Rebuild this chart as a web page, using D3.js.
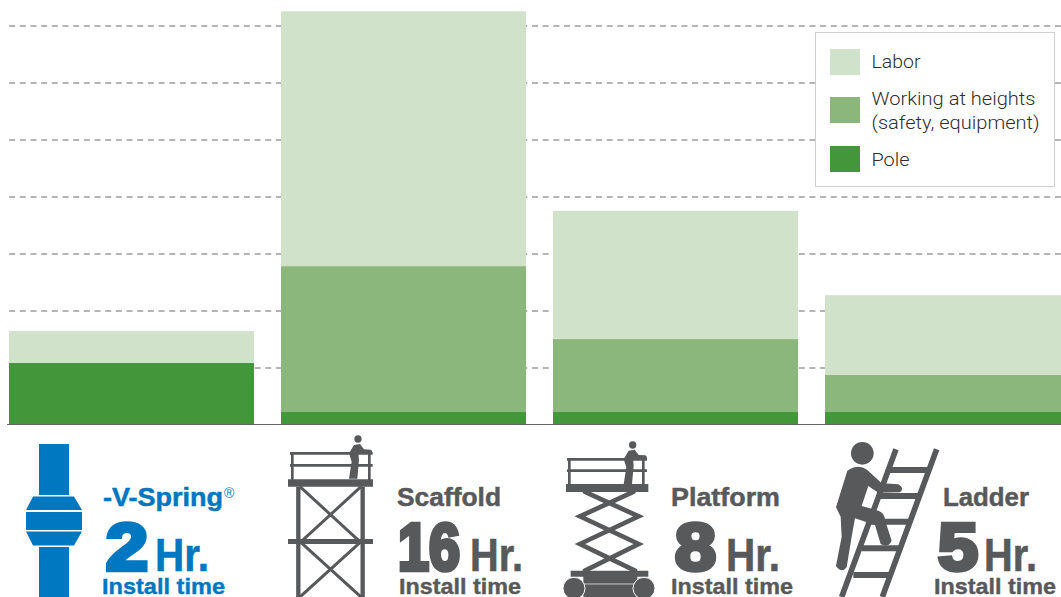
<!DOCTYPE html>
<html>
<head>
<meta charset="utf-8">
<script src="https://cdn.jsdelivr.net/npm/d3@7"></script>
<style>
html,body{margin:0;padding:0;background:#fff;overflow:hidden}
svg{display:block}
text{font-family:"Liberation Sans",Arial,sans-serif}
.b{font-weight:700}
.leg{font-family:"Roboto",sans-serif;font-weight:300;font-size:18px;fill:#2e2e2e}
</style>
</head>
<body>
<svg id="c" width="1061" height="597"></svg>
<script>
// ---- data ----
const categories = ["-V-Spring", "Scaffold", "Platform", "Ladder"];
const poleValues = [1.07, 0.21, 0.21, 0.21];
const heightsValues = [0, 2.56, 1.28, 0.65];
const laborValues = [0.56, 4.47, 2.25, 1.40];
const hours = ["2", "16", "8", "5"];
const seriesNames = ["Pole", "Working at heights", "Labor"];
const legendLabels = ["Labor", "Working at heights", "(safety, equipment)", "Pole"];
const gridTicks = [1, 2, 3, 4, 5, 6, 7];

// ---- style / layout ----
const BLUE = "#0077c1", GREY = "#58595b";
const seriesColors = {"Pole": "#43963a", "Working at heights": "#8bb77d", "Labor": "#d1e2cb"};
const svg = d3.select("#c");

const x = d3.scaleBand().domain(categories).range([9, 1070]).paddingInner(27 / 272);
const y = d3.scaleLinear().domain([0, 7]).range([424, 25]);

// grid
const grid = d3.axisLeft(y).tickValues(gridTicks).tickSize(-1054).tickFormat("");
const gg = svg.append("g").attr("transform", "translate(7,0.5)").call(grid);
gg.select(".domain").remove();
gg.selectAll("line").attr("stroke", "#6a6a6a").attr("stroke-width", 1).attr("stroke-dasharray", "6 4.67").attr("stroke-dashoffset", 8.5);

// bars
const rows = categories.map((c, i) => ({cat: c, "Pole": poleValues[i], "Working at heights": heightsValues[i], "Labor": laborValues[i]}));
const stack = d3.stack().keys(seriesNames)(rows);
svg.append("g").selectAll("g").data(stack).join("g").attr("fill", d => seriesColors[d.key])
  .selectAll("rect").data(d => d).join("rect")
  .attr("x", d => x(d.data.cat)).attr("width", x.bandwidth())
  .attr("y", d => y(d[1])).attr("height", d => y(d[0]) - y(d[1]));

// baseline
svg.append("line").attr("x1", 7).attr("x2", 1061).attr("y1", y(0) + .5).attr("y2", y(0) + .5).attr("stroke", "#666").attr("stroke-width", 1);

// legend
const lg = svg.append("g");
lg.append("rect").attr("x", 815.5).attr("y", 32.5).attr("width", 239).attr("height", 154).attr("fill", "#fff").attr("stroke", "#cfcfcf");
[["Labor", 49], ["Working at heights", 97], ["Pole", 146]].forEach(([k, t]) =>
  lg.append("rect").attr("x", 830).attr("y", t).attr("width", 30).attr("height", 26).attr("fill", seriesColors[k]));
[[67.5, 49], [104.5, 164], [128.5, 168], [165.5, 38]].forEach(([by, w], i) =>
  lg.append("text").attr("class", "leg").attr("x", 871.5).attr("y", by).attr("textLength", w).attr("lengthAdjust", "spacingAndGlyphs").text(legendLabels[i]));

// captions
function fit(sel, x0, x1) { return sel.attr("x", x0).attr("textLength", x1 - x0).attr("lengthAdjust", "spacingAndGlyphs"); }
const capLayout = [
  {c: BLUE, name: [103, 223], num: [104, 150], hr: [155, 209], inst: [102, 225]},
  {c: GREY, name: [397, 501], num: [396, 462], hr: [470, 523], inst: [399, 521]},
  {c: GREY, name: [671, 780], num: [673, 718], hr: [726, 780], inst: [671, 793]},
  {c: GREY, name: [943, 1029], num: [936, 980], hr: [984, 1037], inst: [934, 1056]}
];
categories.forEach((cat, i) => {
  const L = capLayout[i], g = svg.append("g").attr("fill", L.c);
  fit(g.append("text").attr("class", "b").attr("y", 506).attr("font-size", 26).attr("stroke", L.c).attr("stroke-width", .5).text(cat), L.name[0], L.name[1]);
  fit(g.append("text").attr("class", "b").attr("y", 569.5).attr("font-size", 66).attr("stroke", L.c).attr("stroke-width", 4.5).attr("stroke-linejoin", "miter").text(hours[i]), L.num[0] + 2, L.num[1] - 2);
  fit(g.append("text").attr("class", "b").attr("y", 571).attr("font-size", 46).attr("stroke", L.c).attr("stroke-width", .6).text("Hr."), L.hr[0], L.hr[1]);
  fit(g.append("text").attr("class", "b").attr("y", 594).attr("font-size", 22).attr("stroke", L.c).attr("stroke-width", .4).text("Install time"), L.inst[0], L.inst[1]);
});
svg.append("text").attr("x", 224).attr("y", 498).attr("font-size", 14).attr("fill", BLUE).text("®");

// ---- icons (decorative; drawn in 3x local coordinates) ----
const PERSON = "M222,75 L240,72 L252,88 L272,89 Q281,95 273,101 L246,101 L235,96 L237,120 L232,176 L207,176 L215,125 L207,100 Z";

// V-Spring
const vs = svg.append("g").attr("fill", BLUE);
vs.append("rect").attr("x", 39).attr("y", 444).attr("width", 30).attr("height", 51);
vs.append("path").attr("d", "M33,496.5H74L82,510H26Z");
vs.append("rect").attr("x", 26).attr("y", 512).attr("width", 56).attr("height", 18);
vs.append("path").attr("d", "M26,531.5H82L74,545.5H33Z");
vs.append("rect").attr("x", 39).attr("y", 547).attr("width", 30).attr("height", 50);

// Scaffold
const sc = svg.append("g").attr("transform", "translate(280,420) scale(0.3333)").attr("fill", GREY).attr("stroke", GREY);
sc.append("circle").attr("cx", 234).attr("cy", 57).attr("r", 11).attr("stroke", "none");
sc.append("path").attr("d", PERSON).attr("stroke", "none");
sc.append("path").attr("fill", "none").attr("stroke-width", 8).attr("d", "M30,100H278M30,136H278M37,100V180M268,100V180");
sc.append("path").attr("stroke", "none").attr("d", "M24,178H279V200H24ZM24,357H279V372H24Z");
sc.append("path").attr("fill", "none").attr("stroke-width", 13).attr("d", "M55,200V531M248,200V531");
sc.append("path").attr("fill", "none").attr("stroke-width", 9).attr("d", "M60,200L243,368M243,200L60,368M60,365L243,531M243,365L60,531");

// Platform
const pf = svg.append("g").attr("transform", "translate(550,420) scale(0.3333)").attr("fill", GREY).attr("stroke", GREY);
pf.append("circle").attr("cx", 248).attr("cy", 75).attr("r", 11).attr("stroke", "none");
pf.append("path").attr("d", PERSON).attr("stroke", "none").attr("transform", "translate(14,17)");
pf.append("path").attr("fill", "none").attr("stroke-width", 8).attr("d", "M51,118H291M51,152H291M58,118V195M280,118V195");
pf.append("path").attr("stroke", "none").attr("d", "M48,192H295V216H48Z");
pf.append("path").attr("fill", "none").attr("stroke-width", 14).attr("stroke-linecap", "round")
  .attr("d", "M105,216L266,289L90,372L255,452M250,216L90,289L266,372L105,452");
pf.append("path").attr("stroke", "none").attr("d", "M62,452H295V470H62ZM100,470H262V531H100Z");
pf.append("path").attr("stroke", "#fff").attr("stroke-width", 2).attr("fill", "none").attr("d", "M100,492H262");
pf.selectAll("circle.w").data([72, 282]).join("circle").attr("class", "w").attr("cx", d => d).attr("cy", 505).attr("r", 33).attr("stroke", "#fff").attr("stroke-width", 3);

// Ladder
const ld = svg.append("g").attr("transform", "translate(810,420) scale(0.3333)").attr("fill", GREY);
ld.append("path").attr("fill", "none").attr("stroke", GREY).attr("stroke-width", 17)
  .attr("d", "M258,88L95,531M380,88L217,531");
ld.append("path").attr("fill", "none").attr("stroke", GREY).attr("stroke-width", 18)
  .attr("d", "M240,150H355M210,228H325M180,305H300M155,385H270M130,465H240");
ld.append("circle").attr("cx", 157).attr("cy", 100).attr("r", 34);
ld.append("path")
  .attr("d", "M112,152 Q145,130 172,150 L215,190 L265,193 Q285,205 270,217 L205,218 L175,198 L155,258 L205,272 Q225,280 225,300 L245,362 Q235,385 212,372 L195,315 L135,295 L125,350 L110,442 Q95,462 78,438 L95,350 L92,290 L78,262 Z");
</script>
</body>
</html>
